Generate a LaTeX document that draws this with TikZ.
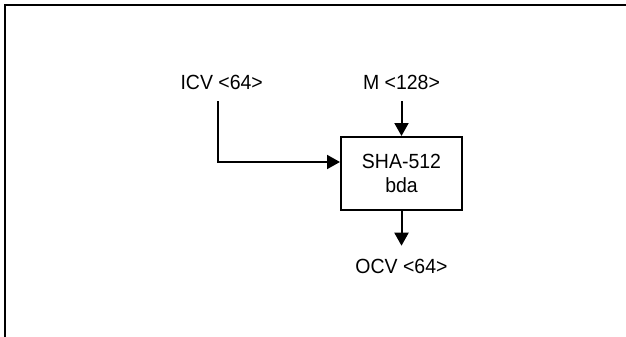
\documentclass[tikz,border=0pt]{standalone}
\usepackage{fontspec}
\setmainfont[FakeStretch=0.95]{Liberation Sans}
\usetikzlibrary{arrows.meta}
\begin{document}
\begin{tikzpicture}[x=1pt,y=-1pt,
  lbl/.style={anchor=base,inner sep=0pt,font=\fontsize{20.5}{24.5}\selectfont},
  blk/.style={draw,line width=2pt,minimum width=121pt,minimum height=73pt,inner sep=0pt,align=center,font=\fontsize{20.5}{24.5}\selectfont},
  arr/.style={line width=2pt,-{Triangle[length=13pt,width=14pt]}},
  frame/.style={line width=1.8pt,line join=miter}]
\useasboundingbox (0,0) rectangle (626,337);
\draw[frame] (5,337) -- (5,5) -- (626,5);
\node[lbl] (icv) at (221.7,89) {ICV <64>};
\node[lbl] (m) at (401.5,89) {M <128>};
\node[blk] (box) at (401.5,173.5) {SHA-512\\bda};
\node[lbl] (ocv) at (401.5,273) {OCV <64>};
\draw[arr] ([xshift=-3.7pt,yshift=-12pt]icv.base) |- ([yshift=11.5pt]box.west);
\draw[arr] ([yshift=-12pt]m.base) -- (box.north);
\draw[arr] (box.south) -- ([yshift=27.3pt]ocv.base);
\end{tikzpicture}
\end{document}
